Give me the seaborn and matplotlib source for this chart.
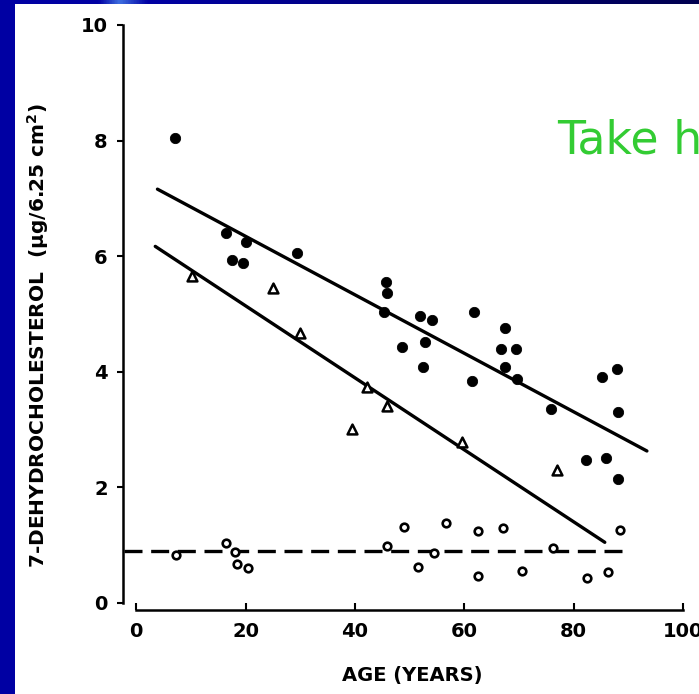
import matplotlib
matplotlib.use("Agg")
import matplotlib.pyplot as plt
import seaborn as sns
import numpy as np
import pandas as pd
from matplotlib.patches import Rectangle
from matplotlib.colors import LinearSegmentedColormap

# values
skin_age = [7.1, 16.5, 20.1, 17.5, 19.6, 29.5, 45.7, 45.9, 45.3, 51.9, 54.1, 48.6, 52.9, 52.5,
            61.7, 61.5, 67.4, 66.8, 69.5, 67.4, 69.6, 75.9, 85.2, 88.0, 88.2, 82.3, 85.9, 88.1]
skin_level = [8.05, 6.41, 6.24, 5.93, 5.89, 6.05, 5.55, 5.37, 5.03, 4.96, 4.90, 4.43, 4.51, 4.09,
              5.04, 3.84, 4.76, 4.40, 4.39, 4.09, 3.88, 3.36, 3.91, 4.05, 3.30, 2.47, 2.51, 2.15]

tri_age = [10.2, 25.1, 30.0, 42.2, 45.8, 39.4, 59.5, 76.9]
tri_level = [5.65, 5.45, 4.67, 3.73, 3.40, 3.01, 2.79, 2.30]

open_age = [7.3, 16.5, 18.0, 18.4, 20.4, 45.8, 49.0, 51.6, 54.4, 56.6, 62.5, 62.6, 67.0,
            70.5, 76.2, 82.4, 86.2, 88.5]
open_level = [0.83, 1.03, 0.88, 0.67, 0.60, 0.98, 1.32, 0.63, 0.86, 1.39, 1.25, 0.47, 1.30,
              0.56, 0.96, 0.44, 0.53, 1.26]

# regression lines (end points) and the dashed mean line
fit_upper_age = [3.9, 93.4]
fit_upper_level = [7.16, 2.63]
fit_lower_age = [3.5, 85.7]
fit_lower_level = [6.17, 1.05]
mean_age = [-2.3, 90.0]
mean_level = [0.9, 0.9]

x_ticks = [0, 20, 40, 60, 80, 100]
y_ticks = [0, 2, 4, 6, 8, 10]

sns.set_style("ticks")
plt.rcParams["font.family"] = ["DejaVu Sans"]
plt.rcParams["text.color"] = "black"
plt.rcParams["xtick.color"] = "black"
plt.rcParams["ytick.color"] = "black"
plt.rcParams["axes.edgecolor"] = "black"

W, H = 699, 694
fig = plt.figure(figsize=(W / 100, H / 100), dpi=100)
fig.patch.set_facecolor("#0000a3")

# slide background: blue frame, white area behind the chart
bg = fig.add_axes([0, 0, 1, 1], zorder=-10)
bg.set_axis_off()
bg.set_xlim(0, 1)
bg.set_ylim(0, 1)
top_cmap = LinearSegmentedColormap.from_list(
    "top", [(0, "#0000a3"), (0.14, "#0000a3"), (0.17, "#3f6fe0"), (0.21, "#0000a3"),
            (0.6, "#00007a"), (1, "#000050")], N=256)
bg.imshow(np.linspace(0, 1, 256)[None, :], cmap=top_cmap, aspect="auto",
          extent=(0, 1, (H - 5) / H, 1), zorder=0)
bg.add_patch(Rectangle((15 / W, 0), 1, (H - 4) / H, facecolor="white",
                       edgecolor="none", zorder=1))

ax = fig.add_axes([123 / W, (H - 603) / H, (683 - 123) / W, (603 - 25) / H])
ax.set_facecolor("none")

df_f = pd.DataFrame({"age": skin_age, "level": skin_level})
df_t = pd.DataFrame({"age": tri_age, "level": tri_level})
df_o = pd.DataFrame({"age": open_age, "level": open_level})

sns.lineplot(x=fit_upper_age, y=fit_upper_level, ax=ax, color="black", lw=2.4)
sns.lineplot(x=fit_lower_age, y=fit_lower_level, ax=ax, color="black", lw=2.4)
sns.lineplot(x=mean_age, y=mean_level, ax=ax, color="black", lw=2.4, linestyle="--")
ax.lines[-1].set_dashes((5.4, 2.6))

sns.scatterplot(data=df_f, x="age", y="level", ax=ax, color="black", s=55,
                edgecolor="black", zorder=4)
sns.scatterplot(data=df_t, x="age", y="level", ax=ax, marker="^", s=50,
                facecolor="white", edgecolor="black", linewidth=1.8, zorder=4)
sns.scatterplot(data=df_o, x="age", y="level", ax=ax, marker="o", s=30,
                facecolor="white", edgecolor="black", linewidth=1.9, zorder=4)

ax.set_xlim(-2.4, 100)
ax.set_ylim(0, 10)
ax.set_xticks(x_ticks)
ax.set_yticks(y_ticks)
ax.set_xlabel("")
ax.set_ylabel("")

sns.despine(ax=ax)
ax.spines["bottom"].set_bounds(0, 100)
ax.spines["bottom"].set_position(("outward", 5))
ax.spines["left"].set_linewidth(1.8)
ax.spines["bottom"].set_linewidth(1.8)
ax.tick_params(axis="x", direction="in", length=5, width=1.5, pad=9, labelsize=14)
ax.tick_params(axis="y", direction="out", length=4, width=1.5, pad=7, labelsize=14)
for lab in ax.get_xticklabels() + ax.get_yticklabels():
    lab.set_fontweight("bold")

fig.text(412 / W, (H - 676) / H, "AGE (YEARS)", ha="center", va="center", fontsize=14,
         fontweight="bold")
fig.text(38 / W, (H - 336) / H, "7-DEHYDROCHOLESTEROL  (µg/6.25 cm$^\\mathbf{2}$)",
         rotation=90, ha="center", va="center", fontsize=14.5, fontweight="bold")
fig.text(557 / W, (H - 153) / H, "Take h", color="#33cc33", fontsize=33, va="baseline")

fig.savefig("out.png", dpi=100)
